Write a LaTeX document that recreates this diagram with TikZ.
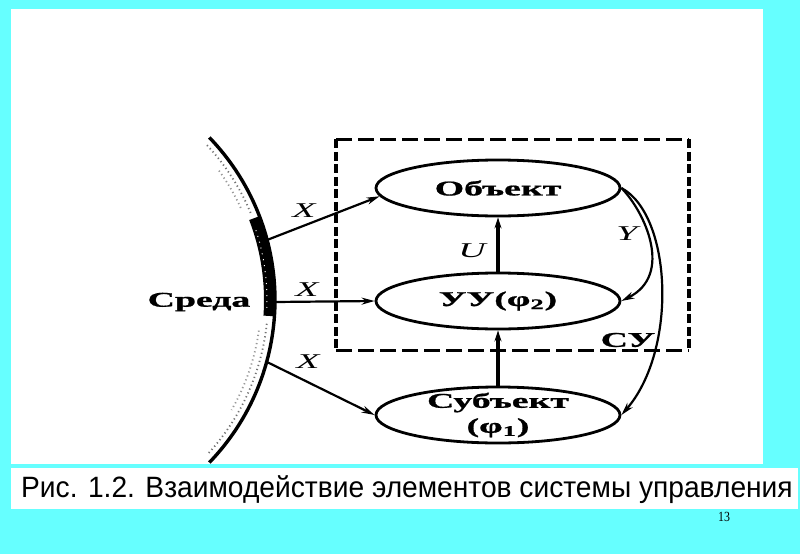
\documentclass[tikz,border=0pt]{standalone}
\usepackage{graphicx}
\usepackage{fontspec}
\setmainfont{Liberation Serif}[BoldFeatures={FakeBold=0.8}]
\newfontfamily\capfont{Liberation Sans}
\usetikzlibrary{arrows.meta,shapes.geometric}
\definecolor{slideCyan}{HTML}{66FFFF}
\newcommand{\wtxt}[1]{\scalebox{1.8}[1]{#1}}
\tikzset{
  sysBlock/.style={
    ellipse,
    draw,
    line width=2.8pt,
    minimum width=244pt,
    minimum height=56pt,
    inner sep=0pt,
    align=center,
    font=\fontsize{21}{25}\selectfont\bfseries
  },
  sysArrow/.style={-{Stealth[length=13pt,width=7pt]}, line width=2.2pt},
  sysLift/.style={-{Stealth[length=11pt,width=7pt]}, line width=3.4pt},
  sigLabel/.style={font=\fontsize{21}{24}\selectfont\itshape, inner sep=0pt},
  boldLabel/.style={font=\fontsize{21}{24}\selectfont\bfseries, inner sep=0pt},
  frameH/.style={line width=2.6pt, dash pattern=on 16pt off 6pt},
  frameV/.style={line width=3.8pt, dash pattern=on 9pt off 3.5pt},
  envDots/.style={black!55, line width=1.8pt, dash pattern=on 1.2pt off 3pt}
}

\begin{document}
\begin{tikzpicture}[x=1pt, y=-1pt]
  \useasboundingbox (0,0) rectangle (800,554);
  \fill[slideCyan] (0,0) rectangle (800,554);
  \fill[white] (11,9) rectangle (763,464);
  \fill[white] (11,468) rectangle (798,509);

  % environment boundary
  \draw[envDots] plot[domain=43:22, samples=30] ({41+227*cos(\x)}, {300-227*sin(\x)});
  \draw[envDots] plot[domain=-6:-43, samples=40] ({41+227*cos(\x)}, {300-227*sin(\x)});
  \draw[envDots, black!40] plot[domain=36:24, samples=20] ({41+220*cos(\x)}, {300-220*sin(\x)});
  \draw[envDots, black!40] plot[domain=-8:-30, samples=30] ({41+220*cos(\x)}, {300-220*sin(\x)});
  \draw[line width=10pt] plot[domain=21:-4, samples=30] ({41+228*cos(\x)}, {300-228*sin(\x)});
  \draw[white, line width=1pt, dash pattern=on 1pt off 5pt] plot[domain=18:-2, samples=30] ({41+226*cos(\x)}, {300-226*sin(\x)});
  \draw[line width=3.4pt] plot[domain=44:-44, samples=80] ({41+234*cos(\x)}, {300-234*sin(\x)});
  \coordinate (envA) at (267,240);
  \coordinate (envB) at (275,302);
  \coordinate (envC) at (267,362);
  \node[boldLabel] (env) at (199,302) {\wtxt{Среда}};

  % control system frame
  \node[minimum width=352pt, minimum height=211pt, inner sep=0pt] (su) at (512.5,245) {};
  \draw[frameH] (su.north west) -- (su.north east);
  \draw[frameH] (su.south west) -- (su.south east);
  \draw[frameV] (su.north west) -- (su.south west);
  \draw[frameV] (su.north east) -- (su.south east);
  \node[boldLabel] (sulbl) at (628,340) {\wtxt{СУ}};

  \node[sysBlock] (obj) at (498,188) {\wtxt{Объект}};
  \node[sysBlock] (uu) at (498,301) {\wtxt{УУ(φ\textsubscript{2})}};
  \node[sysBlock, inner ysep=-4pt] (subj) at (498,415) {\wtxt{Субъект}\\\wtxt{(φ\textsubscript{1})}};

  \foreach \a/\b in {envA/obj.184,envB/uu.west,envC/subj.west}
    \draw[sysArrow] (\a) -- (\b);
  \draw[sysLift] (uu.north) -- (obj.south);
  \draw[sysLift] (subj.north) -- (uu.south);
  \draw[sysArrow] (obj.east) .. controls (645,212) and (674,275) .. (uu.east);
  \draw[sysArrow] (obj.east) .. controls (672,215) and (678,350) .. (subj.east);

  \node[sigLabel] (x1) at (304,211) {\wtxt{X}};
  \node[sigLabel] (x2) at (307,290) {\wtxt{X}};
  \node[sigLabel] (x3) at (308,362) {\wtxt{X}};
  \node[sigLabel] (ulbl) at (472,251) {\wtxt{U}};
  \node[sigLabel] (ylbl) at (627,234) {\wtxt{Y}};

  \node[anchor=base west, inner sep=0pt, font=\capfont\fontsize{28}{30}\selectfont] (cap)
    at (21,497) {\scalebox{1.006}[1.05]{Рис. 1.2. Взаимодействие элементов системы управления}};
  \node[anchor=base, inner sep=0pt, font=\fontsize{14}{16}\selectfont] (pg) at (724,521) {\scalebox{0.85}[1]{13}};
\end{tikzpicture}
\end{document}
